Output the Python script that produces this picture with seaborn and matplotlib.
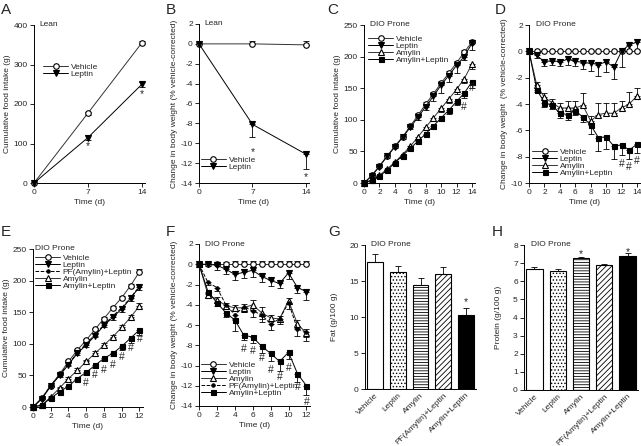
import numpy as np
import pandas as pd
import matplotlib
matplotlib.use('Agg')
import matplotlib.pyplot as plt
import seaborn as sns

# ---------------- data ----------------
days_lean = [0, 7, 14]
a_vehicle = [0, 177, 355]
a_vehicle_err = [0, 4, 4]
a_leptin = [0, 115, 250]
a_leptin_err = [0, 7, 6]

b_vehicle = [0, 0.0, -0.1]
b_vehicle_err = [0, 0.3, 0.4]
b_leptin = [0, -8.1, -11.1]
b_leptin_err = [0, 1.3, 1.5]

days14 = list(range(15))
c_vehicle = [0, 12, 27, 43, 58, 73, 90, 107, 125, 141, 158, 174, 190, 207, 223]
c_vehicle_err = [0, 1, 1, 2, 2, 2, 2, 3, 3, 3, 3, 3, 3, 3, 4]
c_leptin = [0, 11, 26, 42, 57, 72, 88, 104, 121, 137, 155, 170, 186, 200, 221]
c_leptin_err = [0, 1, 1, 2, 2, 2, 3, 4, 5, 7, 13, 10, 12, 6, 11]
c_amylin = [0, 5, 12, 22, 33, 45, 58, 73, 88, 103, 118, 133, 148, 165, 188]
c_amylin_err = [0, 1, 1, 2, 2, 3, 3, 4, 4, 5, 6, 6, 7, 7, 7]
c_amylep = [0, 4, 11, 20, 32, 43, 55, 66, 78, 90, 103, 115, 129, 142, 160]
c_amylep_err = [0, 1, 1, 2, 2, 2, 3, 3, 4, 5, 5, 6, 6, 7, 9]

d_vehicle = [0] * 15
d_vehicle_err = [0] * 15
d_leptin = [0, -0.3, -0.8, -0.7, -0.8, -0.6, -0.75, -0.85, -0.9, -1.0, -0.8, -1.2, 0.0, 0.5, 0.7]
d_leptin_err = [0, 0.2, 0.3, 0.3, 0.3, 0.4, 0.4, 0.5, 0.6, 0.9, 0.8, 0.9, 1.2, 0.5, 0.6]
d_amylin = [0, -2.55, -3.5, -3.9, -4.3, -4.3, -4.3, -4.1, -5.3, -4.8, -4.7, -4.7, -4.3, -4.0, -3.4]
d_amylin_err = [0, 0.2, 0.3, 0.3, 0.4, 0.5, 0.5, 0.9, 0.4, 0.9, 0.8, 0.8, 0.5, 0.9, 0.6]
d_amylep = [0, -2.9, -3.9, -4.1, -4.7, -4.8, -4.5, -5.0, -5.6, -6.55, -6.5, -7.2, -7.1, -7.5, -7.05]
d_amylep_err = [0, 0.2, 0.3, 0.3, 0.4, 0.4, 0.3, 0.4, 0.7, 1.0, 0.9, 1.0, 0.8, 0.7, 0.7]

days12 = list(range(13))
e_vehicle = [0, 14, 34, 52, 72, 90, 106, 123, 140, 157, 173, 192, 214]
e_vehicle_err = [0, 1, 1, 2, 2, 2, 2, 2, 3, 3, 3, 3, 4]
e_leptin = [0, 13, 33, 50, 67, 85, 98, 113, 129, 142, 155, 172, 190]
e_leptin_err = [0, 1, 1, 2, 2, 2, 3, 3, 3, 4, 4, 4, 5]
e_pf = [0, 14, 34, 51, 68, 86, 100, 115, 130, 144, 157, 173, 191]
e_pf_err = [0] * 13
e_amylin = [0, 3, 16, 30, 45, 58, 72, 85, 98, 111, 126, 142, 160]
e_amylin_err = [0, 1, 1, 2, 2, 3, 3, 3, 3, 3, 4, 4, 5]
e_amylep = [0, 3, 14, 24, 33, 45, 55, 66, 77, 85, 96, 109, 122]
e_amylep_err = [0, 1, 1, 2, 2, 3, 4, 4, 5, 5, 6, 7, 8]

f_vehicle = [0] * 13
f_vehicle_err = [0, 0.2, 0.2, 0.2, 0.3, 0.3, 0.3, 0.3, 0.3, 0.3, 0.3, 0.3, 0.3]
f_leptin = [0, 0.0, -0.1, -0.5, -1.0, -0.8, -0.6, -1.2, -1.6, -1.9, -0.85, -2.3, -2.7]
f_leptin_err = [0, 0.2, 0.5, 0.5, 0.6, 0.6, 0.7, 0.6, 0.5, 0.4, 0.6, 0.5, 0.8]
f_amylin = [0, -3.0, -3.5, -4.1, -4.3, -4.3, -4.0, -4.8, -5.3, -5.4, -3.6, -5.9, -6.8]
f_amylin_err = [0, 0.2, 0.3, 0.3, 0.3, 0.4, 0.5, 0.6, 0.3, 0.3, 0.3, 0.4, 0.4]
f_pf = [0, -1.8, -2.3, -4.0, -5.0, -4.2, -4.6, -5.0, -5.9, -5.4, -3.8, -6.4, -6.7]
f_pf_err = [0, 0.2, 0.3, 0.3, 0.4, 0.5, 0.6, 0.7, 0.6, 0.5, 0.6, 0.7, 0.9]
f_amylep = [0, -2.7, -3.8, -4.8, -5.5, -7.0, -7.2, -8.1, -8.8, -9.6, -8.7, -10.8, -12.0]
f_amylep_err = [0, 0.2, 0.3, 0.4, 1.1, 0.5, 0.6, 0.7, 0.8, 0.9, 0.7, 0.8, 0.9]

bar_groups = ['Vehicle', 'Leptin', 'Amylin', 'PF(Amylin)+Leptin', 'Amylin+Leptin']
g_fat = [17.7, 16.2, 14.5, 16.0, 10.3]
g_fat_err = [1.0, 0.9, 0.9, 0.9, 1.0]
h_protein = [6.70, 6.57, 7.27, 6.88, 7.42]
h_protein_err = [0.06, 0.08, 0.05, 0.08, 0.13]

# annotation marks (x, y)
a_stars = [(7, 93), (14, 224)]
b_stars = [(7, -10.9), (14, -13.4)]
c_hash = [(13, 120), (14, 150)]
d_hash = [(12, -8.55), (13, -8.8), (14, -8.3)]
e_hash = [(6, 38), (7, 50), (8, 58), (9, 67), (10, 79), (11, 93), (12, 108)]
f_hash = [(5, -8.35), (6, -8.6), (7, -9.3), (8, -10.4), (9, -11.1), (10, -10.2), (11, -12.1), (12, -13.6)]
g_stars = [(4, 12.1)]
h_stars = [(2, 7.5), (4, 7.63)]

# ---------------- style ----------------
sns.set_theme(style='ticks')
plt.rcParams['font.family'] = ['Liberation Sans', 'DejaVu Sans']
plt.rcParams['hatch.linewidth'] = 0.6
FS = 6

W, H = 641, 446
fig = plt.figure(figsize=(W / 100, H / 100), dpi=100)


def axpx(l, t, r, b):
    return fig.add_axes([l / W, 1 - b / H, (r - l) / W, (b - t) / H])


STY = {
    'Vehicle': dict(marker='o', mfc='white', ms=4.0, ls='-', color='#333333', d=1),
    'Leptin': dict(marker='v', mfc='black', ms=4.2, ls='-', color='black', d=-1),
    'Amylin': dict(marker='^', mfc='white', ms=4.6, ls='-', color='#333333', d=1),
    'PF(Amylin)+Leptin': dict(marker='o', mfc='black', ms=2.4, ls='--', color='black', d=-1),
    'Amylin+Leptin': dict(marker='s', mfc='black', ms=3.6, ls='-', color='black', d=-1),
}


def series(ax, x, y, err, name, d=None):
    st = STY[name]
    d = st['d'] if d is None else d
    sns.lineplot(x=x, y=y, ax=ax, color=st['color'], lw=0.7, linestyle=st['ls'],
                 marker=st['marker'], markersize=st['ms'], markerfacecolor=st['mfc'],
                 markeredgecolor='black', markeredgewidth=0.8, label=name,
                 errorbar=None, clip_on=False, zorder=3)
    x = np.asarray(x, float); y = np.asarray(y, float); err = np.asarray(err, float)
    m = err > 0
    if m.any():
        lo = err[m] if d <= 0 else np.zeros(m.sum())
        up = err[m] if d >= 0 else np.zeros(m.sum())
        ax.errorbar(x[m], y[m], yerr=[lo, up], fmt='none', ecolor='black',
                    elinewidth=0.6, capsize=2, capthick=0.6, zorder=2, clip_on=False)


def style_axes(ax, xlim, ylim, xticks, yticks, xlabel, ylabel, tag, letter, lx, ly, tagx=0.05):
    ax.set_xlim(*xlim); ax.set_ylim(*ylim)
    ax.set_xticks(xticks); ax.set_yticks(yticks)
    ax.set_yticklabels([f'{v:g}' for v in yticks])
    ax.set_xlabel(xlabel, fontsize=FS, labelpad=2)
    ax.set_ylabel(ylabel, fontsize=FS, labelpad=2)
    ax.tick_params(labelsize=FS, length=3, width=0.6, pad=1.5, color='black')
    sns.despine(ax=ax)
    for s in ['left', 'bottom']:
        ax.spines[s].set_linewidth(0.7)
        ax.spines[s].set_color('black')
    ax.text(tagx, 1.0, tag, transform=ax.transAxes, fontsize=FS,
            va='center', ha='left')
    fig.text(lx / W, 1 - ly / H, letter, fontsize=11, va='center', ha='left')


def legend(ax, names, x, y):
    hs, ls = ax.get_legend_handles_labels()
    lut = dict(zip(ls, hs))
    ax.legend([lut[n] for n in names], names, loc='upper left',
              bbox_to_anchor=(x / W, 1 - y / H), bbox_transform=fig.transFigure,
              frameon=False, fontsize=FS, handlelength=3.0, handletextpad=0.3,
              labelspacing=-0.1, borderpad=0, borderaxespad=0)


def marks(ax, pts, ch):
    for x, y in pts:
        ax.text(x, y, ch, ha='center', va='center', fontsize=7.5, clip_on=False)


# ---------------- A ----------------
ax = axpx(34, 25, 145, 183)
series(ax, days_lean, a_vehicle, a_vehicle_err, 'Vehicle', d=0)
series(ax, days_lean, a_leptin, a_leptin_err, 'Leptin', d=0)
marks(ax, a_stars, '*')
style_axes(ax, (0, 14.4), (0, 400), [0, 7, 14], [0, 100, 200, 300, 400],
           'Time (d)', 'Cumulative food intake (g)', 'Lean', 'A', 1, 10)
legend(ax, ['Vehicle', 'Leptin'], 43, 63)

# ---------------- B ----------------
ax = axpx(199, 24, 309, 183)
series(ax, days_lean, b_vehicle, b_vehicle_err, 'Vehicle', d=1)
series(ax, days_lean, b_leptin, b_leptin_err, 'Leptin', d=-1)
marks(ax, b_stars, '*')
style_axes(ax, (0, 14.4), (-14, 2), [0, 7, 14], list(range(2, -15, -2)),
           'Time (d)', 'Change in body weight (% vehicle-corrected)', 'Lean', 'B', 166, 10)
legend(ax, ['Vehicle', 'Leptin'], 201, 156)

# ---------------- C ----------------
ax = axpx(364, 25, 475, 183)
series(ax, days14, c_vehicle, c_vehicle_err, 'Vehicle')
series(ax, days14, c_leptin, c_leptin_err, 'Leptin')
series(ax, days14, c_amylin, c_amylin_err, 'Amylin', d=-1)
series(ax, days14, c_amylep, c_amylep_err, 'Amylin+Leptin')
marks(ax, c_hash, '#')
style_axes(ax, (0, 14.4), (0, 250), list(range(0, 15, 2)), [0, 50, 100, 150, 200, 250],
           'Time (d)', 'Cumulative food intake (g)', 'DIO Prone', 'C', 327, 10)
legend(ax, ['Vehicle', 'Leptin', 'Amylin', 'Amylin+Leptin'], 368, 35)

# ---------------- D ----------------
ax = axpx(529, 25, 640, 183)
series(ax, days14, d_vehicle, d_vehicle_err, 'Vehicle')
series(ax, days14, d_leptin, d_leptin_err, 'Leptin')
series(ax, days14, d_amylin, d_amylin_err, 'Amylin')
series(ax, days14, d_amylep, d_amylep_err, 'Amylin+Leptin')
marks(ax, d_hash, '#')
style_axes(ax, (0, 14.4), (-10, 2), list(range(0, 15, 2)), list(range(2, -11, -2)),
           'Time (d)', 'Change in body weight  (% vehicle-corrected)', 'DIO Prone', 'D', 495, 10,
           tagx=0.06)
legend(ax, ['Vehicle', 'Leptin', 'Amylin', 'Amylin+Leptin'], 532, 148)

# ---------------- E ----------------
ax = axpx(33, 249, 143, 407)
series(ax, days12, e_vehicle, e_vehicle_err, 'Vehicle')
series(ax, days12, e_leptin, e_leptin_err, 'Leptin')
series(ax, days12, e_pf, e_pf_err, 'PF(Amylin)+Leptin')
series(ax, days12, e_amylin, e_amylin_err, 'Amylin')
series(ax, days12, e_amylep, e_amylep_err, 'Amylin+Leptin')
marks(ax, e_hash, '#')
style_axes(ax, (0, 12.4), (0, 250), list(range(0, 13, 2)), [0, 50, 100, 150, 200, 250],
           'Time (d)', 'Cumulative food intake (g)', 'DIO Prone', 'E', 1, 232, tagx=0.02)
legend(ax, ['Vehicle', 'Leptin', 'PF(Amylin)+Leptin', 'Amylin', 'Amylin+Leptin'], 35, 254)

# ---------------- F ----------------
ax = axpx(199, 244, 310, 406)
series(ax, days12, f_vehicle, f_vehicle_err, 'Vehicle')
series(ax, days12, f_leptin, f_leptin_err, 'Leptin')
series(ax, days12, f_amylin, f_amylin_err, 'Amylin', d=0)
series(ax, days12, f_pf, f_pf_err, 'PF(Amylin)+Leptin')
series(ax, days12, f_amylep, f_amylep_err, 'Amylin+Leptin')
marks(ax, f_hash, '#')
style_axes(ax, (0, 12.4), (-14, 2), list(range(0, 13, 2)), list(range(2, -15, -2)),
           'Time (d)', 'Change in body weight (% vehicle-corrected)', 'DIO Prone', 'F', 166, 232)
legend(ax, ['Vehicle', 'Leptin', 'Amylin', 'PF(Amylin)+Leptin', 'Amylin+Leptin'], 201, 361)

# ---------------- G / H (bars) ----------------
HATCH = ['', '.....', '------', '//////', '']
FACE = ['white', 'white', 'white', 'white', 'black']


def bars(ax, vals, errs):
    df = pd.DataFrame({'group': bar_groups, 'value': vals})
    sns.barplot(data=df, x='group', y='value', ax=ax, order=bar_groups, color='white',
                edgecolor='black', linewidth=0.8, width=0.7, errorbar=None, zorder=2)
    for p, h, f in zip(ax.patches, HATCH, FACE):
        p.set_hatch(h); p.set_facecolor(f); p.set_edgecolor('black')
    ax.errorbar(range(len(vals)), vals, yerr=[np.zeros(len(vals)), errs], fmt='none',
                ecolor='black', elinewidth=0.6, capsize=2.5, capthick=0.6, zorder=1)


ax = axpx(365, 245, 476, 389)
bars(ax, g_fat, g_fat_err)
marks(ax, g_stars, '*')
style_axes(ax, (-0.45, 4.45), (0, 20), list(range(5)), [0, 5, 10, 15, 20],
           '', 'Fat (g/100 g)', 'DIO Prone', 'G', 328, 232)
ax.set_xticklabels(bar_groups, rotation=45, ha='right', rotation_mode='anchor')
ax.tick_params(axis='x', length=0, pad=2)
ax.set_ylabel('Fat (g/100 g)', fontsize=FS, labelpad=8)

ax = axpx(524, 245, 638, 390)
bars(ax, h_protein, h_protein_err)
marks(ax, h_stars, '*')
style_axes(ax, (-0.45, 4.45), (0, 8), list(range(5)), list(range(9)),
           '', 'Protein (g/100 g)', 'DIO Prone', 'H', 492, 232, tagx=0.06)
ax.set_xticklabels(bar_groups, rotation=45, ha='right', rotation_mode='anchor')
ax.tick_params(axis='x', length=0, pad=2)
ax.set_ylabel('Protein (g/100 g)', fontsize=FS, labelpad=8)

fig.savefig('out.png', dpi=100, facecolor='white')
